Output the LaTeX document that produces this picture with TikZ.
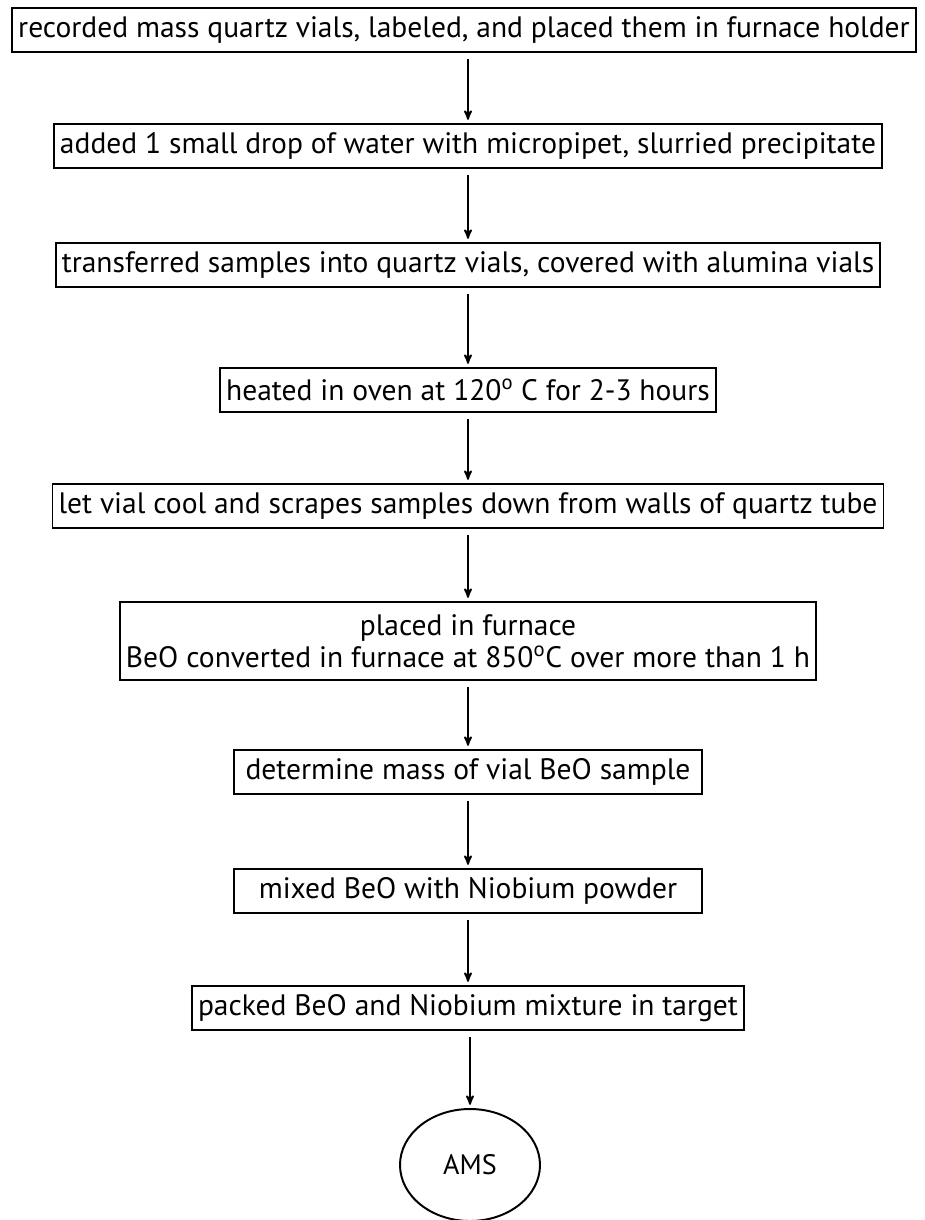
\documentclass[tikz,border=0pt]{standalone}
\usepackage{fontspec}
\setmainfont{PT Sans}
\usetikzlibrary{arrows,shapes.geometric}

\begin{document}
\begin{tikzpicture}
    \useasboundingbox (0,0) rectangle (23.125,-30.5);
    \tikzset{StepStyle/.style={draw, line width=1.4pt, inner xsep=0.15cm,
        minimum height=1.1cm, font=\fontsize{21}{23}\selectfont, align=center}}
    \tikzset{EndStyle/.style={draw, ellipse, line width=1.4pt, minimum width=3.5cm,
        minimum height=2.8cm, font=\fontsize{20}{24}\selectfont}}

    \node[StepStyle] (Rec)  at (11.6,-0.75)    {recorded mass quartz vials, labeled, and placed them in furnace holder};
    \node[StepStyle] (Add)  at (11.7,-3.65)    {added 1 small drop of water with micropipet, slurried precipitate};
    \node[StepStyle] (Tra)  at (11.7,-6.625)   {transferred samples into quartz vials, covered with alumina vials};
    \node[StepStyle] (Heat) at (11.7,-9.75)    {heated in oven at 120\textsuperscript{o} C for 2-3 hours};
    \node[StepStyle] (Cool) at (11.7,-12.65)   {let vial cool and scrapes samples down from walls of quartz tube};
    \node[StepStyle, minimum height=1.95cm] (Furn) at (11.7,-16.025)
        {placed in furnace\\BeO converted in furnace at 850\textsuperscript{o}C over more than 1 h};
    \node[StepStyle, minimum width=11.7cm] (Mass) at (11.7,-19.3)  {determine mass of vial BeO sample};
    \node[StepStyle, minimum width=11.7cm] (Mix)  at (11.7,-22.275) {mixed BeO with Niobium powder};
    \node[StepStyle] (Pack) at (11.7,-25.2)    {packed BeO and Niobium mixture in target};
    \node[EndStyle]  (AMS)  at (11.75,-29.125) {AMS};

    \tikzset{EdgeStyle/.style={->, >=stealth', line width=1.3pt, shorten <=0.15cm, shorten >=0.08cm}}
    \draw[EdgeStyle] (Rec.south -| Add.north) -- (Add);
    \draw[EdgeStyle] (Add)  -- (Tra);
    \draw[EdgeStyle] (Tra)  -- (Heat);
    \draw[EdgeStyle] (Heat) -- (Cool);
    \draw[EdgeStyle] (Cool) -- (Furn);
    \draw[EdgeStyle] (Furn) -- (Mass);
    \draw[EdgeStyle] (Mass) -- (Mix);
    \draw[EdgeStyle] (Mix)  -- (Pack);
    \draw[EdgeStyle] (Pack.south -| AMS.north) -- (AMS);
\end{tikzpicture}
\end{document}
